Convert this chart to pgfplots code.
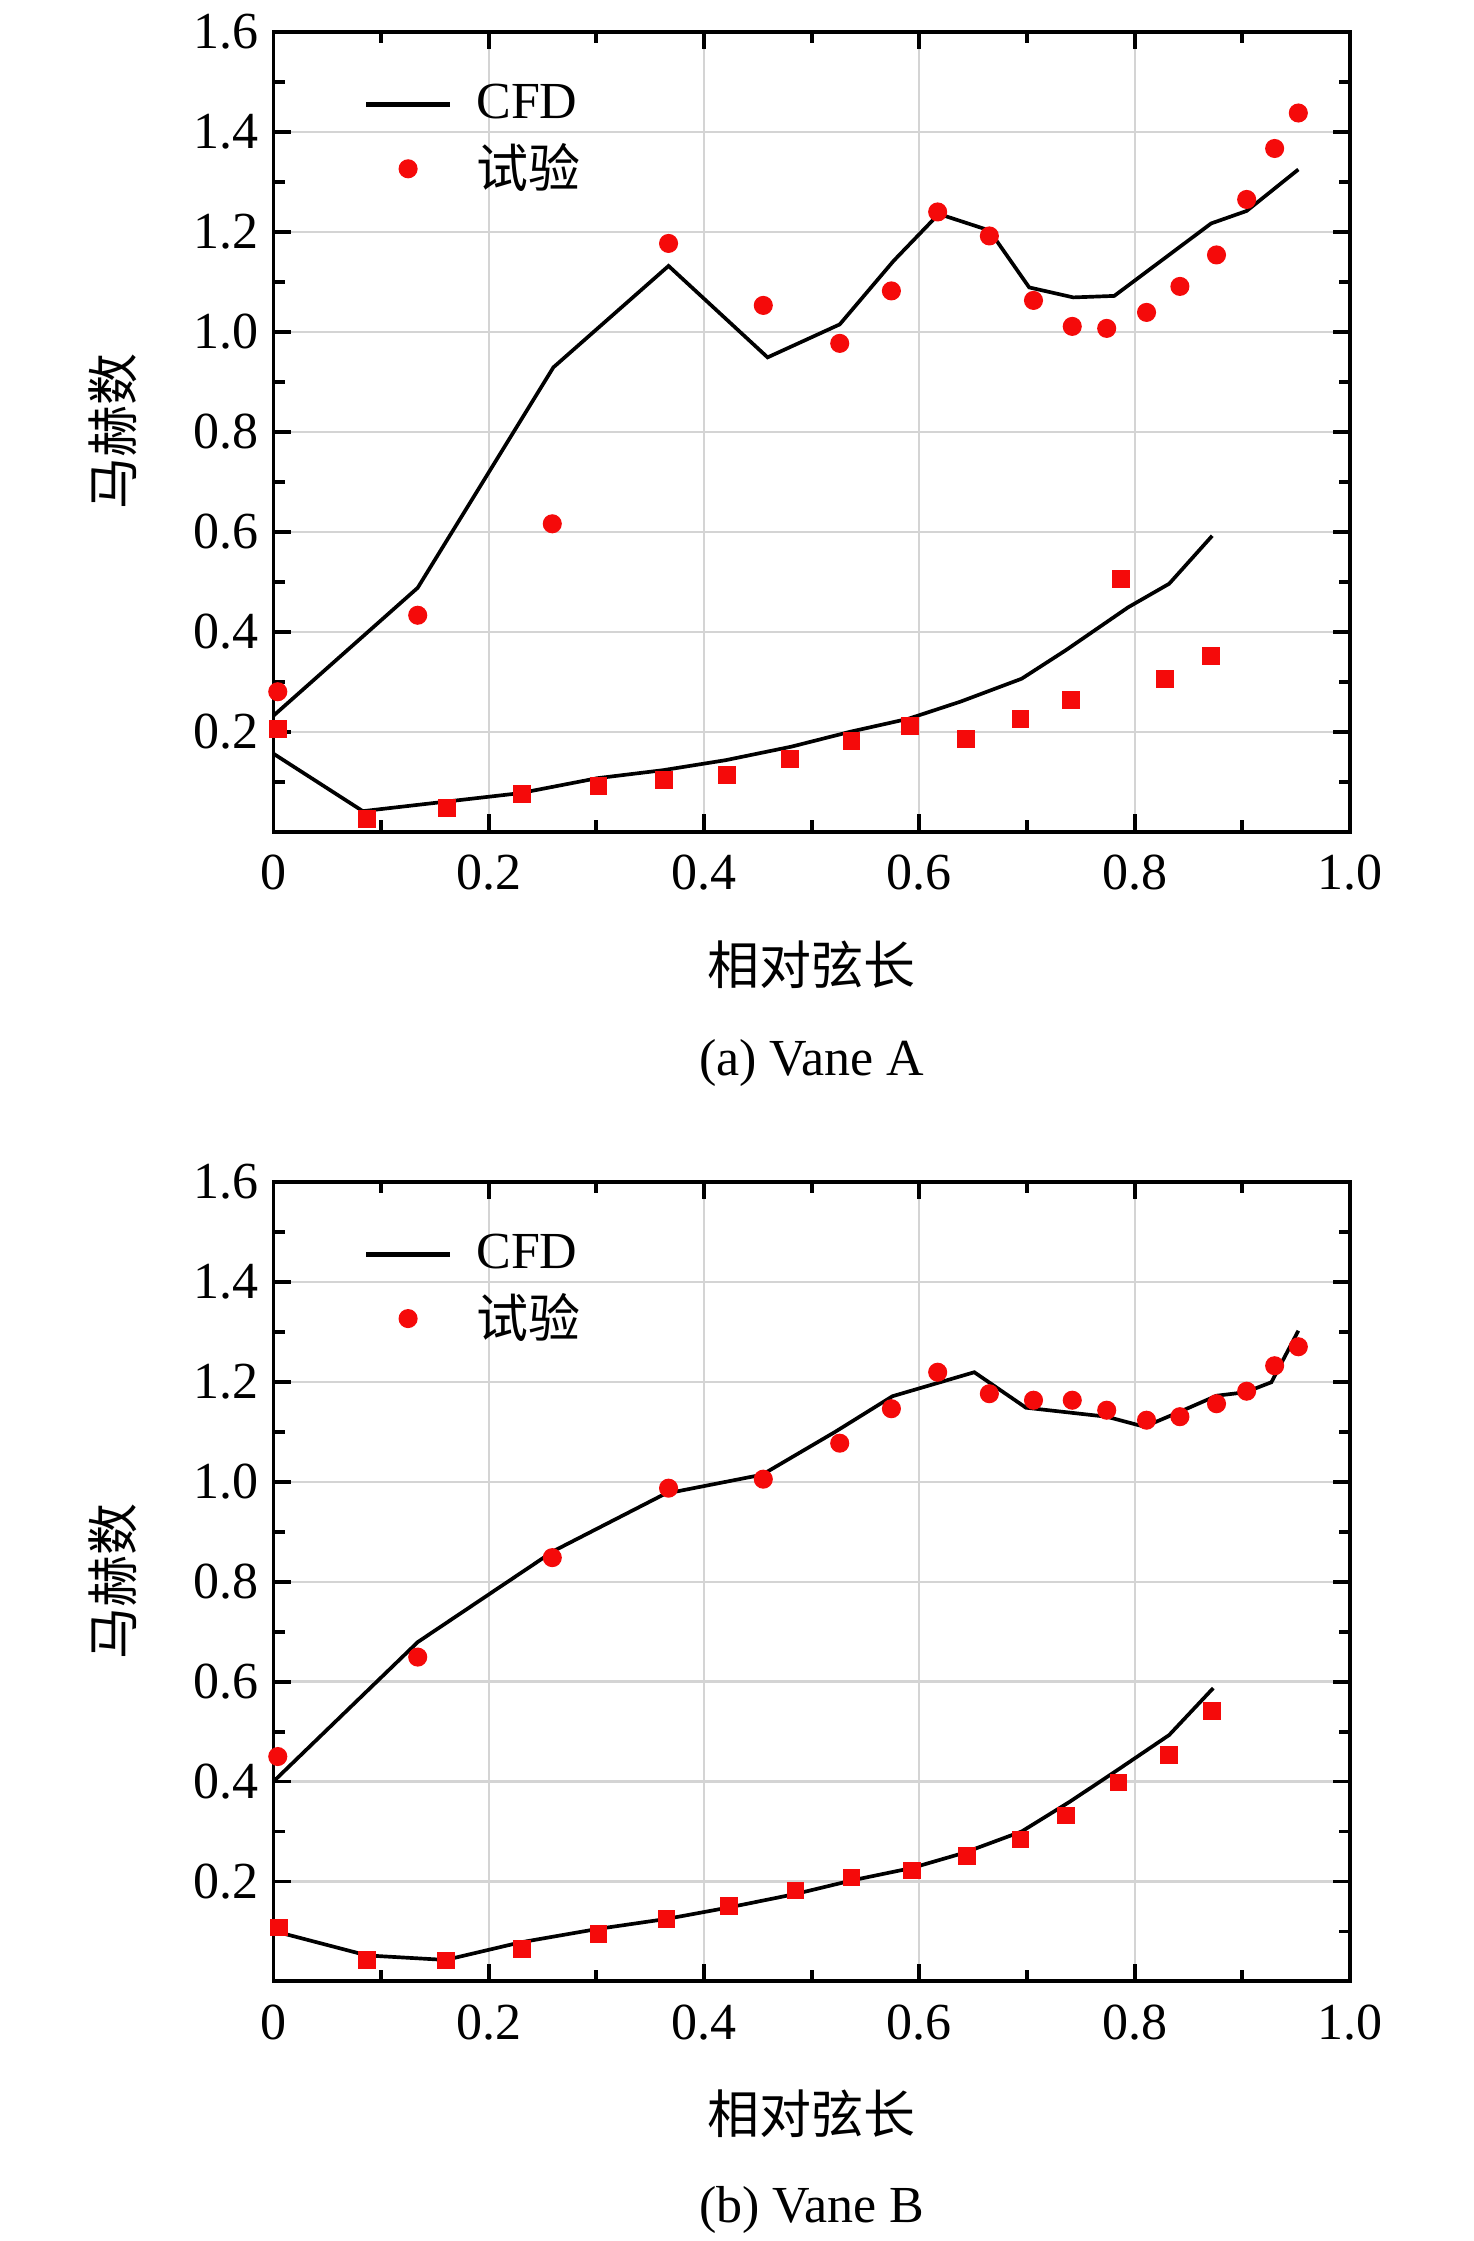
\documentclass[border=0pt]{standalone}
\usepackage{fontspec}
\setmainfont{Liberation Serif}
\newfontfamily\cjk{Noto Sans CJK SC}
\usepackage{pgfplots}
\pgfplotsset{compat=1.18}
\definecolor{gridc}{RGB}{212,212,212}
\definecolor{mred}{RGB}{245,10,10}

\pgfplotsset{
  vane/.style={
    scale only axis, width=248.4pt, height=184.5pt,
    xmin=0, xmax=1, ymin=0, ymax=1.6,
    clip=false,
    font=\fontsize{12}{14}\selectfont,
    xtick={0,0.2,0.4,0.6,0.8,1}, xticklabels={0,0.2,0.4,0.6,0.8,1.0},
    minor xtick={0.1,0.3,0.5,0.7,0.9},
    ytick={0.2,0.4,0.6,0.8,1.0,1.2,1.4,1.6},
    yticklabels={0.2,0.4,0.6,0.8,1.0,1.2,1.4,1.6},
    minor ytick={0.1,0.3,0.5,0.7,0.9,1.1,1.3,1.5},
    tick align=inside, major tick length=4pt, minor tick length=2.6pt,
    every tick/.style={black, line width=0.9pt},
    axis line style={black, line width=0.9pt},
    grid=major, major grid style={gridc, line width=0.5pt},
    xticklabel style={yshift=-1.9pt},
    xlabel={\cjk 相对弦长},
    xlabel style={at={(axis description cs:0.5,0)}, anchor=center, yshift=-30.6pt},
    ylabel={\cjk 马赫数},
    ylabel style={at={(axis description cs:-0.149,0.5)}, anchor=center},
    legend style={draw=none, fill=none, at={(axis description cs:0.083,0.947)},
      anchor=north west, font=\fontsize{12}{14}\selectfont, row sep=0.3pt,
      cells={anchor=west}, inner sep=0pt,
      nodes={inner xsep=5.5pt}},
    legend image code/.code={\draw[#1, line width=1.1pt] (0pt,0pt) -- (19.4pt,0pt);},
    cfd/.style={black, line width=0.85pt, mark=none},
    circ/.style={only marks, mark=*, mark size=2.05pt,
      mark options={fill=mred, draw=mred, line width=0.3pt},
      legend image code/.code={\draw[##1] plot coordinates {(9.7pt,0pt)};}},
    sq/.style={only marks, mark=square*, mark size=1.9pt,
      mark options={fill=mred, draw=mred, line width=0.3pt}},
  }
}

\begin{document}
\begin{tikzpicture}
\path (0pt,0pt) rectangle (340pt,-516.4pt);

% ---------------- (a) Vane A ----------------
\begin{axis}[vane, at={(63.1pt,-191.2pt)}, anchor=south west,
  after end axis/.code={\node[font=\fontsize{12}{14}\selectfont, anchor=base, inner sep=0pt] at (axis description cs:0.5,0) [yshift=-56.2pt] {(a) Vane A};}]
\addplot[cfd] coordinates {
(0,0.232) (0.134,0.488) (0.260,0.929) (0.367,1.132) (0.459,0.949)
(0.526,1.015) (0.576,1.142) (0.618,1.236) (0.665,1.203) (0.702,1.089)
(0.743,1.069) (0.781,1.072) (0.871,1.217) (0.904,1.242) (0.952,1.325)};
\addlegendentry{CFD}
\addplot[circ] coordinates {
(0.004,0.280) (0.134,0.433) (0.259,0.616) (0.367,1.177) (0.455,1.053)
(0.526,0.977) (0.574,1.082) (0.617,1.240) (0.665,1.192) (0.706,1.063)
(0.742,1.011) (0.774,1.007) (0.811,1.039) (0.842,1.091) (0.876,1.154)
(0.904,1.265) (0.930,1.367) (0.952,1.438)};
\addlegendentry{\cjk 试验}
\addplot[cfd, forget plot] coordinates {
(0,0.156) (0.083,0.041) (0.229,0.077) (0.301,0.107) (0.362,0.123)
(0.420,0.143) (0.481,0.170) (0.536,0.200) (0.590,0.226) (0.638,0.260)
(0.695,0.306) (0.736,0.363) (0.794,0.449) (0.832,0.496) (0.872,0.592)};
\addplot[sq, forget plot] coordinates {
(0.004,0.205) (0.087,0.025) (0.161,0.048) (0.231,0.075) (0.302,0.091)
(0.363,0.103) (0.421,0.113) (0.480,0.145) (0.537,0.181) (0.591,0.212)
(0.643,0.185) (0.694,0.226) (0.741,0.263) (0.787,0.506) (0.828,0.306)
(0.871,0.352)};
\end{axis}

% ---------------- (b) Vane B ----------------
\begin{axis}[vane, at={(63.1pt,-456.5pt)}, anchor=south west,
  after end axis/.code={\node[font=\fontsize{12}{14}\selectfont, anchor=base, inner sep=0pt] at (axis description cs:0.5,0) [yshift=-55.7pt] {(b) Vane B};}]
\addplot[cfd] coordinates {
(0,0.400) (0.134,0.679) (0.260,0.861) (0.364,0.976) (0.454,1.014)
(0.522,1.100) (0.575,1.171) (0.651,1.219) (0.699,1.148) (0.774,1.130)
(0.809,1.110) (0.842,1.140) (0.876,1.172) (0.903,1.179) (0.927,1.199)
(0.952,1.302)};
\addlegendentry{CFD}
\addplot[circ] coordinates {
(0.004,0.450) (0.134,0.649) (0.259,0.848) (0.367,0.987) (0.455,1.005)
(0.526,1.077) (0.574,1.146) (0.617,1.219) (0.665,1.176) (0.706,1.163)
(0.742,1.163) (0.774,1.143) (0.811,1.123) (0.842,1.130) (0.876,1.156)
(0.904,1.181) (0.930,1.232) (0.952,1.270)};
\addlegendentry{\cjk 试验}
\addplot[cfd, forget plot] coordinates {
(0,0.101) (0.087,0.052) (0.160,0.043) (0.229,0.078) (0.301,0.105)
(0.365,0.125) (0.423,0.148) (0.485,0.175) (0.537,0.202) (0.593,0.227)
(0.641,0.257) (0.695,0.300) (0.740,0.360) (0.784,0.423) (0.832,0.493)
(0.873,0.587)};
\addplot[sq, forget plot] coordinates {
(0.005,0.108) (0.087,0.043) (0.160,0.042) (0.231,0.065) (0.302,0.095)
(0.365,0.125) (0.423,0.151) (0.485,0.182) (0.537,0.208) (0.593,0.222)
(0.644,0.251) (0.694,0.284) (0.736,0.332) (0.785,0.398) (0.832,0.453)
(0.872,0.541)};
\end{axis}
\end{tikzpicture}
\end{document}
